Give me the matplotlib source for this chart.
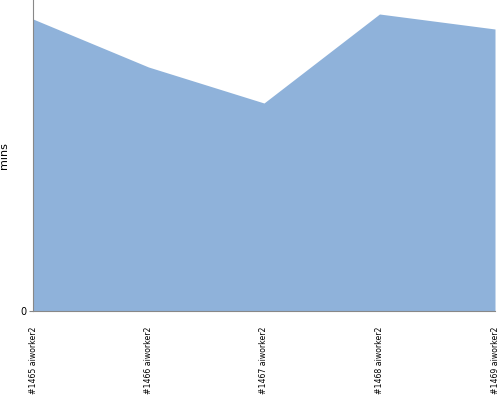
import matplotlib
matplotlib.use('Agg')
from matplotlib import pyplot as plt

# build labels and durations
builds = ['#1465 aiworker2', '#1466 aiworker2', '#1467 aiworker2', '#1468 aiworker2', '#1469 aiworker2']
mins = [292, 244, 208, 297, 282]

fig = plt.figure(figsize=(5, 4), dpi=100)
ax = fig.add_axes([0.066, 0.2225, 0.924, 0.7775])

x = list(range(len(builds)))
ax.fill_between(x, mins, 0, color='#8fb2da', linewidth=0)

ax.set_xlim(0, len(builds) - 1)
ax.set_ylim(0, 311)
ax.set_yticks([0])
ax.set_yticklabels(['0'], fontsize=7)
ax.set_xticks(x)
ax.set_xticklabels(builds, rotation=90, fontsize=5.6)
ax.tick_params(axis='x', length=0, pad=11)
ax.tick_params(axis='y', length=3, color='#888888', pad=2)
ax.set_ylabel('mins', fontsize=8, labelpad=8)

for side in ['top', 'right']:
    ax.spines[side].set_visible(False)
for side in ['left', 'bottom']:
    ax.spines[side].set_color('#888888')

fig.savefig('out.png', dpi=100)
